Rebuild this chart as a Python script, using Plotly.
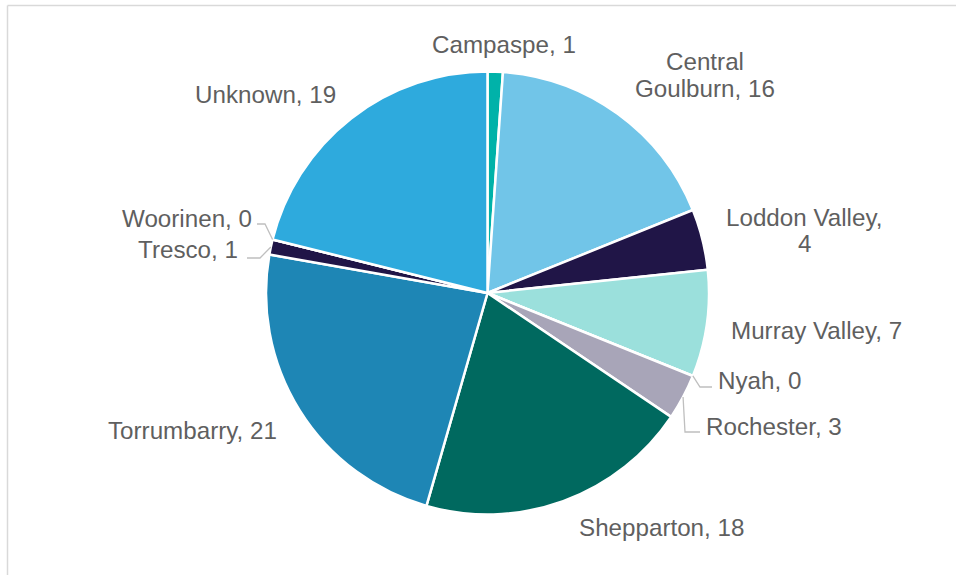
import math
import plotly.graph_objects as go

# ---- data ----
regions = ["Campaspe", "Central Goulburn", "Loddon Valley", "Murray Valley", "Nyah",
           "Rochester", "Shepparton", "Torrumbarry", "Tresco", "Woorinen", "Unknown"]
counts = [1, 16, 4, 7, 0, 3, 18, 21, 1, 0, 19]
colors = ["#00B2A9", "#71C5E8", "#201547", "#9BE0DC", "#5B6770",
          "#A8A5B8", "#00695F", "#1E86B5", "#201547", "#5B6770", "#2EAADD"]

# ---- layout geometry (pixels) ----
W, H = 956, 575
CX, CY, R = 487.5, 293, 221.5
FONT = dict(family="Liberation Sans, Arial, sans-serif", size=24.2, color="#5F5F5F")


def px(x):
    return x / W


def py(y):
    return 1 - y / H


fig = go.Figure(go.Pie(
    labels=regions, values=counts, sort=False, direction="clockwise", rotation=0,
    marker=dict(colors=colors, line=dict(color="white", width=2.5)),
    textinfo="none", hoverinfo="label+value",
    domain=dict(x=[px(CX - R), px(CX + R)], y=[py(CY + R), py(CY - R)]),
    showlegend=False,
))

# label text lines & placements (pixel positions, anchor)
label_lines = {
    "Campaspe": [("Campaspe, 1", 504, 45, "center")],
    "Central Goulburn": [("Central", 705, 61, "center"), ("Goulburn, 16", 705, 88, "center")],
    "Loddon Valley": [("Loddon Valley,", 804, 217, "center"), ("4", 804, 243, "center")],
    "Murray Valley": [("Murray Valley, 7", 816, 330, "center")],
    "Nyah": [("Nyah, 0", 716, 380, "left")],
    "Rochester": [("Rochester, 3", 704, 426, "left")],
    "Shepparton": [("Shepparton, 18", 577, 527, "left")],
    "Torrumbarry": [("Torrumbarry, 21", 192, 430, "center")],
    "Tresco": [("Tresco, 1", 240, 249, "right")],
    "Woorinen": [("Woorinen, 0", 254, 218, "right")],
    "Unknown": [("Unknown, 19", 265, 95, "center")],
}

annotations = []
for name in regions:
    for txt, x, y, anc in label_lines[name]:
        annotations.append(dict(text=txt, x=px(x), y=py(y), xref="paper", yref="paper",
                                xanchor=anc, yanchor="middle", showarrow=False, font=FONT))

# leader lines: start on the slice edge at the slice mid-angle
total = sum(counts)
cum = 0
mid_angle = {}
for name, v in zip(regions, counts):
    mid_angle[name] = (cum + v / 2) / total * 2 * math.pi
    cum += v

leader_elbows = {
    "Nyah": [(700, 387), (712, 387)],
    "Rochester": [(685, 432), (700, 432)],
    "Tresco": [(260, 258), (247, 258)],
    "Woorinen": [(265, 224), (257, 224)],
}
shapes = []
for name, pts in leader_elbows.items():
    a = mid_angle[name]
    sx, sy = CX + R * math.sin(a), CY - R * math.cos(a)
    allpts = [(sx, sy)] + pts
    path = "M " + " L ".join(f"{px(x):.5f},{py(y):.5f}" for x, y in allpts)
    shapes.append(dict(type="path", path=path, xref="paper", yref="paper",
                       line=dict(color="#BFBFBF", width=1.3)))

# chart-area border (top & left visible)
shapes.append(dict(type="line", xref="paper", yref="paper", x0=px(7.5), x1=1.0,
                   y0=py(5.5), y1=py(5.5), line=dict(color="#D9D9D9", width=1.5)))
shapes.append(dict(type="line", xref="paper", yref="paper", x0=px(7.5), x1=px(7.5),
                   y0=py(5.5), y1=0.0, line=dict(color="#D9D9D9", width=1.5)))

fig.update_layout(
    width=W, height=H, margin=dict(l=0, r=0, t=0, b=0),
    paper_bgcolor="white", plot_bgcolor="white",
    annotations=annotations, shapes=shapes,
)

fig.write_html("out.html", config={"displayModeBar": False},
               post_script="document.body.style.margin='0';document.body.style.overflow='hidden';")
